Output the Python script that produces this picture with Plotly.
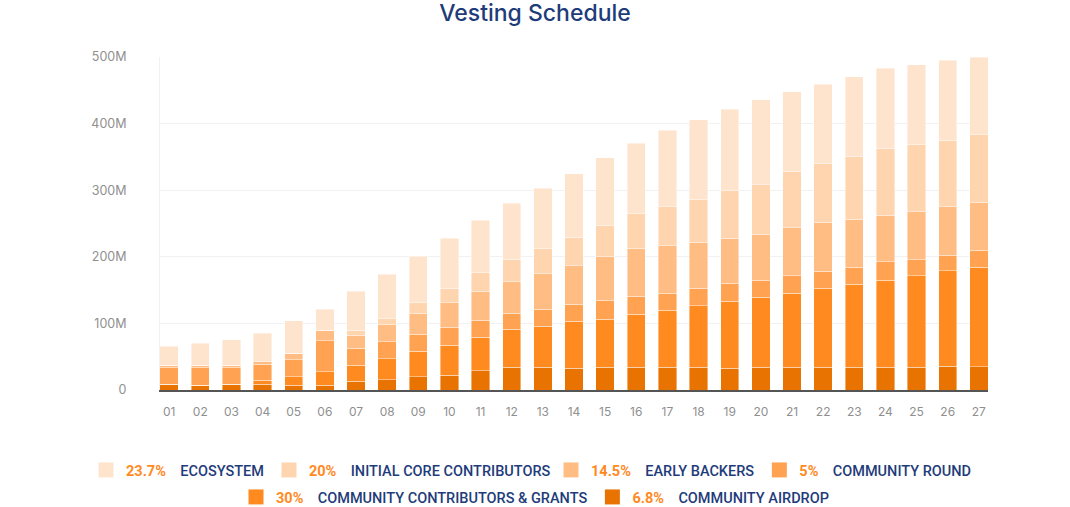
import plotly.graph_objects as go

periods = [f"{i:02d}" for i in range(1, 28)]

# values in millions (bottom -> top of stack)
airdrop = [9, 7.5, 9, 8.5, 7.5, 7.5, 13, 15.5, 20, 22.5, 29, 34.5, 34.5, 33, 34.5, 34.5, 34.5,
           34.5, 33, 34.5, 34.5, 34.5, 34.5, 34.5, 34.5, 36, 35]
grants = [0, 0, 0, 6.5, 12.5, 20, 24.5, 31.5, 38.5, 44.5, 50.5, 57, 61.5, 70, 72, 79.5, 85.5,
          92, 100.5, 105, 111, 118, 124, 130.5, 137, 143, 149]
comm_round = [24.5, 26, 24.5, 23.5, 25.5, 46.5, 25.5, 25.5, 25.5, 27.5, 25.5, 24, 25.5, 25.5,
              28.5, 27, 25.5, 26, 26.5, 25.5, 26, 26, 26, 27.5, 24, 23.5, 26]
early_backers = [4, 4, 4, 4, 10, 16, 19.5, 26, 31.5, 36.5, 43.5, 48, 54, 58, 66, 71.5, 71, 69.5,
                 68, 69, 72.5, 72.5, 72, 70, 72.5, 72.5, 72]
core = [0, 0, 0, 0, 0, 0, 7.5, 9.5, 16, 22, 28.5, 33, 37, 43, 46.5, 52.5, 58.5, 64.5, 72, 74.5,
        84.5, 88.5, 94.5, 99.5, 101, 100, 101]
ecosystem = [28.5, 32.5, 38, 42.5, 48.5, 31.5, 58.5, 66, 69.5, 75, 78, 84, 90.5, 95, 101.5,
             105.5, 115, 119.5, 121.5, 127.5, 119, 119.5, 119.5, 121, 119.5, 120, 117]

series_names = ["COMMUNITY AIRDROP", "COMMUNITY CONTRIBUTORS & GRANTS", "COMMUNITY ROUND",
                "EARLY BACKERS", "INITIAL CORE CONTRIBUTORS", "ECOSYSTEM"]
series_pcts = ["6.8%", "30%", "5%", "14.5%", "20%", "23.7%"]
series_values = [airdrop, grants, comm_round, early_backers, core, ecosystem]
series_colors = ["#E97300", "#FF8A1F", "#FFA352", "#FFBD83", "#FFD5B0", "#FFE4CD"]
# row 1 is split in two halves (legend / legend3) so it stays on one line; row 2 is legend2
series_legend = ["legend2", "legend2", "legend3", "legend3", "legend", "legend"]

y_tickvals = [0, 100, 200, 300, 400, 500]
y_ticktext = ["0", "100M", "200M", "300M", "400M", "500M"]

PCT_COLOR = "#FF8A1F"
NAVY = "#1F3C7A"
NB = "\u00a0"

fig = go.Figure()
for name, pct, vals, col, lg in zip(series_names, series_pcts, series_values, series_colors, series_legend):
    label = f'<span style="color:{PCT_COLOR}"><b>{pct}</b></span>{NB*4}{name}'
    fig.add_trace(go.Bar(
        x=periods, y=vals, name=label, showlegend=False, legendgroup=name,
        marker=dict(color=col, line=dict(width=0.6, color="rgba(255,255,255,0.7)")),
    ))
    # legend entry with a larger square swatch
    fig.add_trace(go.Scatter(
        x=[None], y=[None], mode="markers", name=label, legend=lg, legendgroup=name,
        marker=dict(symbol="square", size=15, color=col), hoverinfo="skip",
    ))

legend_common = dict(orientation="h", xref="container", yref="container",
                     yanchor="middle", traceorder="reversed", itemsizing="trace",
                     bgcolor="rgba(0,0,0,0)",
                     font=dict(family="Roboto", size=14.5, color=NAVY, weight=500))

row1_y = 1 - 470 / 507
row2_y = 1 - 497 / 507

fig.update_layout(
    width=1070, height=507,
    barmode="stack", bargap=0.41,
    paper_bgcolor="white", plot_bgcolor="white",
    margin=dict(l=160, r=82, t=57, b=117),
    title=dict(text="Vesting Schedule", x=0.5, xanchor="center", y=1 - 12.5 / 507,
               yanchor="middle",
               font=dict(family="Inter", size=23, color=NAVY, weight=500)),
    font=dict(family="Inter"),
    xaxis=dict(type="category", range=[-0.294, 26.294], showline=True, linecolor="#555555",
               linewidth=1.5, showgrid=False, ticks="", ticklabelstandoff=10,
               tickfont=dict(family="Inter", size=12, color="#8F8F8F")),
    yaxis=dict(range=[0, 500], tickvals=y_tickvals, ticktext=y_ticktext, showgrid=True,
               gridcolor="#F1F1F1", gridwidth=1, zeroline=False, showline=True,
               linecolor="#F1F1F1", ticks="", ticklabelstandoff=30,
               tickfont=dict(family="Inter", size=12.5, color="#8F8F8F")),
    legend=dict(legend_common, x=556 / 1070, xanchor="right", y=row1_y),
    legend3=dict(legend_common, x=551 / 1070, xanchor="left", y=row1_y),
    legend2=dict(legend_common, x=0.5, xanchor="center", y=row2_y),
)

fig.write_html("out.html")
